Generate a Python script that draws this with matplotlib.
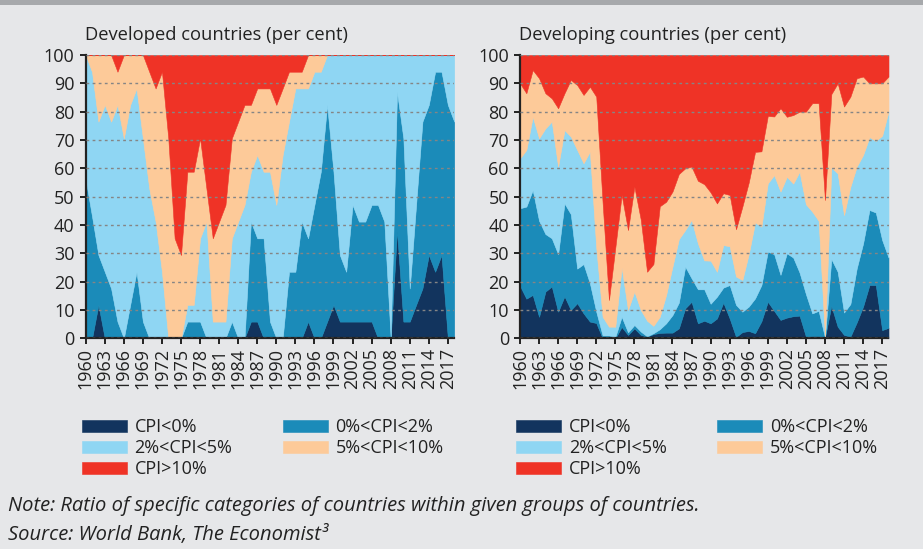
import matplotlib
matplotlib.use("Agg")
import matplotlib.pyplot as plt
from matplotlib.patches import Rectangle
import numpy as np

plt.rcParams['font.family'] = ['Open Sans', 'DejaVu Sans']

years = list(range(1960, 2019))
tick_years = list(range(1960, 2018, 3))
categories = ['CPI<0%', '0%<CPI<2%', '2%<CPI<5%', '5%<CPI<10%', 'CPI>10%']
colors = ['#12345e', '#1b8bb9', '#8fd6f3', '#fdca99', '#ef3326']

# Developed countries (per cent), 1960-2018
dev_below0 = [0, 0, 11.8, 0, 0, 0, 0, 0, 0, 0,
              0, 0, 0, 0, 0, 0, 0, 0, 0, 0,
              0, 0, 0, 0, 0, 0, 5.9, 5.9, 0, 0,
              0, 0, 0, 0, 0, 5.9, 0, 0, 5.9, 11.8,
              5.9, 5.9, 5.9, 5.9, 5.9, 5.9, 0, 0, 0, 38,
              5.9, 5.9, 11.8, 17.6, 29.4, 23.5, 29.4, 0, 0]
dev_0to2 = [56, 43, 17.6, 23.5, 17.6, 5.9, 0, 11.8, 23.5, 5.9,
            0, 0, 0, 0, 0, 0, 5.9, 5.9, 5.9, 0,
            0, 0, 0, 5.9, 0, 0, 35.3, 29.4, 35.3, 5.9,
            0, 0, 23.5, 23.5, 41.2, 29.4, 47.1, 58.8, 76.5, 47,
            23.5, 17.6, 41.2, 35.3, 35.3, 41.2, 47.1, 41.2, 0, 49,
            64.7, 11.7, 35.3, 58.9, 53, 70.6, 64.7, 82.4, 76.5]
dev_2to5 = [44, 51, 47.1, 58.9, 58.9, 76.5, 70.6, 70.6, 64.7, 64.7,
            52.9, 41.2, 23.5, 0, 0, 0, 5.9, 5.9, 29.4, 41.2,
            5.9, 5.9, 5.9, 29.4, 41.2, 47.1, 17.6, 29.4, 23.5, 52.9,
            47.1, 64.7, 53, 64.7, 47, 52.9, 47, 35.3, 17.6, 41.2,
            70.6, 76.5, 52.9, 58.8, 58.8, 52.9, 52.9, 58.8, 100, 13,
            29.4, 82.4, 52.9, 23.5, 17.6, 5.9, 5.9, 17.6, 23.5]
dev_5to10 = [0, 6, 23.5, 17.6, 23.5, 11.7, 29.4, 17.6, 11.8, 29.4,
             41.2, 47, 70.6, 70.6, 35.3, 29.4, 47, 47, 35.3, 11.7,
             29.4, 35.3, 41.2, 35.3, 35.3, 35.3, 23.6, 23.5, 29.4, 29.4,
             35.3, 23.5, 17.6, 5.9, 5.9, 11.8, 5.9, 5.9, 0, 0,
             0, 0, 0, 0, 0, 0, 0, 0, 0, 0,
             0, 0, 0, 0, 0, 0, 0, 0, 0]
dev_above10 = [0, 0, 0, 0, 0, 5.9, 0, 0, 0, 0,
               5.9, 11.8, 5.9, 29.4, 64.7, 70.6, 41.2, 41.2, 29.4, 47.1,
               64.7, 58.8, 52.9, 29.4, 23.5, 17.6, 17.6, 11.8, 11.8, 11.8,
               17.6, 11.8, 5.9, 5.9, 5.9, 0, 0, 0, 0, 0,
               0, 0, 0, 0, 0, 0, 0, 0, 0, 0,
               0, 0, 0, 0, 0, 0, 0, 0, 0]

# Developing countries (per cent), 1960-2018
dvg_below0 = [18.5, 14, 15.3, 7.6, 16.5, 18.3, 9.4, 14.8, 10, 12.4,
              8.8, 5.9, 5.4, 0, 0.5, 0, 4, 1.2, 3.5, 1.2,
              0.6, 1.5, 1.9, 2, 2, 3.5, 10.6, 12.9, 5.3, 6.2,
              5.3, 7, 12.6, 7, 0.5, 2.2, 2.6, 1.8, 6, 12.9,
              9.7, 6.5, 7.3, 7.8, 8, 0.6, 0.8, 0.8, 0.3, 11.5,
              4.1, 1.2, 0.6, 5.6, 11.2, 18.8, 18.8, 2.9, 3.7]
dvg_0to2 = [27.4, 32.5, 37, 33.9, 20.3, 17, 20.3, 32.8, 33.8, 12.2,
            17.4, 13.5, 4, 1, 0.5, 0.5, 3.6, 0.9, 1.2, 1.2,
            0.1, 0.3, 1.3, 3.3, 6.2, 9.1, 14.7, 8.3, 12, 11.1,
            6.9, 7.7, 5.3, 11.8, 11.3, 7.2, 8.6, 12.3, 12.8, 17.7,
            20, 15.9, 22.7, 20.7, 15.2, 15, 8, 8.9, 0, 16.5,
            19.4, 7.9, 11.5, 19.1, 22.3, 26.5, 25.6, 31.8, 24.8]
dvg_2to5 = [17.6, 20, 25.9, 29.1, 37.3, 41.2, 30.9, 25.9, 27.4, 41.9,
            35.6, 46.5, 22.6, 6.6, 3.1, 3.6, 17.4, 7.9, 11.8, 7.6,
            5.5, 2.6, 4.4, 10, 17.1, 22.4, 12.9, 20.6, 16.2, 10.2,
            15.2, 8.8, 15, 13.7, 10, 11.2, 18.5, 26.8, 20.6, 24.1,
            27.9, 29.4, 27, 26.1, 35.6, 31.7, 35.9, 31.8, 0.2, 32.3,
            34.7, 34.4, 41.4, 35.9, 31.2, 25.7, 25.3, 36.8, 51.5]
dvg_5to10 = [26.5, 20, 16.5, 21.2, 12.4, 8.2, 20.6, 13, 20, 22.9,
             24.1, 22.9, 53.3, 40.4, 9.4, 27.9, 25.6, 28.2, 37, 32,
             17.3, 21.8, 39, 32.9, 26.5, 23, 21.8, 18.8, 22.1, 26.9,
             24.1, 24.1, 18.3, 18.1, 16.7, 25.9, 25.3, 24.9, 26.6, 23.8,
             20.7, 29.4, 21.2, 24.2, 21.2, 32.7, 38.3, 41.5, 48.3, 25.9,
             31.8, 38.3, 31.8, 31.2, 27.7, 19, 20.3, 18.5, 12.4]
dvg_above10 = [10, 13.5, 5.3, 8.2, 13.5, 15.3, 18.8, 13.5, 8.8, 10.6,
               14.1, 11.2, 14.7, 52, 86.5, 68, 49.4, 61.8, 46.5, 58,
               76.5, 73.8, 53.4, 51.8, 48.2, 42, 40, 39.4, 44.4, 45.6,
               48.5, 52.4, 48.8, 49.4, 61.5, 53.5, 45, 34.2, 34, 21.5,
               21.7, 18.8, 21.8, 21.2, 20, 20, 17, 17, 51.2, 13.8,
               10, 18.2, 14.7, 8.2, 7.6, 10, 10, 10, 7.6]

panels = [
    ('Developed countries (per cent)',
     [dev_below0, dev_0to2, dev_2to5, dev_5to10, dev_above10]),
    ('Developing countries (per cent)',
     [dvg_below0, dvg_0to2, dvg_2to5, dvg_5to10, dvg_above10]),
]

BG = '#e6e7e9'
W, H = 923, 549
fig = plt.figure(figsize=(W / 100, H / 100), dpi=100, facecolor=BG)
fig.add_artist(Rectangle((0, 1 - 5 / H), 1, 5 / H, transform=fig.transFigure,
                         facecolor='#a7a9ac', edgecolor='none'))

ax_left_px = [85.7, 520.0]
ax_w_px = 368.5
ax_bottom = (H - 338.3) / H
ax_height = 283.3 / H

for k, (title, series) in enumerate(panels):
    ax = fig.add_axes([ax_left_px[k] / W, ax_bottom, ax_w_px / W, ax_height])
    ax.set_facecolor(BG)
    polys = ax.stackplot(years, *series, colors=colors, labels=categories,
                         linewidth=0.4)
    for p, c in zip(polys, colors):
        p.set_edgecolor(c)
    ax.set_xlim(1960, 2018)
    ax.set_ylim(0, 100)
    ax.set_yticks(range(0, 101, 10))
    ax.set_xticks(tick_years)
    ax.set_xticklabels([str(y) for y in tick_years], rotation=90)
    ax.tick_params(axis='both', labelsize=13, colors='#222222',
                   length=4, width=1.4, direction='out', pad=3)
    ax.tick_params(axis='y', pad=4)
    for s in ['top', 'right']:
        ax.spines[s].set_visible(False)
    for s in ['left', 'bottom']:
        ax.spines[s].set_color('#222222')
        ax.spines[s].set_linewidth(1.6)
    ax.set_axisbelow(False)
    ax.yaxis.grid(True, color='#858585', linewidth=1.0,
                  linestyle=(0, (2.0, 2.4)))
    ax.xaxis.grid(False)
    fig.text((ax_left_px[k] - 1) / W, 1 - 35 / H, title, fontsize=13.2,
             color='#222222', ha='left', va='center')

    h = polys
    lx = ax_left_px[k] / W
    fig.legend([h[0], h[2], h[4]], [categories[0], categories[2], categories[4]],
               loc='upper left', bbox_to_anchor=(lx - 0.012, 1 - 411 / H),
               frameon=False, fontsize=13, handlelength=2.5,
               handleheight=0.62, handletextpad=0.42, labelspacing=0.17,
               borderaxespad=0, labelcolor='#222222')
    lx2 = (ax_left_px[k] + 201) / W
    fig.legend([h[1], h[3]], [categories[1], categories[3]],
               loc='upper left', bbox_to_anchor=(lx2 - 0.012, 1 - 411 / H),
               frameon=False, fontsize=13, handlelength=2.5,
               handleheight=0.62, handletextpad=0.42, labelspacing=0.17,
               borderaxespad=0, labelcolor='#222222')

fig.text(8 / W, 1 - 506 / H,
         'Note: Ratio of specific categories of countries within given groups of countries.',
         fontsize=14.5, style='italic', color='#222222', ha='left', va='center')
fig.text(8 / W, 1 - 535 / H, 'Source: World Bank, The Economist\u00b3',
         fontsize=14.5, style='italic', color='#222222', ha='left', va='center')

fig.savefig('out.png', dpi=100, facecolor=BG)
